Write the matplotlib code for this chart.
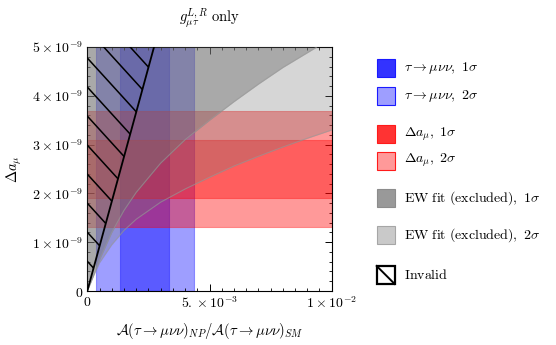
import numpy as np
import matplotlib
matplotlib.use("Agg")
import matplotlib.pyplot as plt
from matplotlib.patches import Rectangle, Polygon
from matplotlib.lines import Line2D

plt.rcParams['mathtext.fontset'] = 'cm'
plt.rcParams['font.family'] = ['DejaVu Serif']

# ---- data ----
tau_1s = [1.34e-3, 3.36e-3]
tau_2s = [0.36e-3, 4.37e-3]
amu_1s = [1.90e-9, 3.09e-9]
amu_2s = [1.31e-9, 3.69e-9]

ew1_x = [0, 0.25e-3, 0.5e-3, 1.0e-3, 1.5e-3, 2.0e-3, 3.0e-3, 4.0e-3, 5.0e-3, 6.0e-3, 7.0e-3, 8.0e-3, 9.39e-3]
ew1_y = [0, 0.32e-9, 0.64e-9, 1.20e-9, 1.65e-9, 2.02e-9, 2.62e-9, 3.10e-9, 3.50e-9, 3.88e-9, 4.24e-9, 4.58e-9, 5.0e-9]
ew2_x = [0, 0.25e-3, 0.5e-3, 1.0e-3, 1.5e-3, 2.0e-3, 3.0e-3, 4.0e-3, 5.0e-3, 6.0e-3, 7.0e-3, 8.0e-3, 9.0e-3, 10.0e-3]
ew2_y = [0, 0.30e-9, 0.58e-9, 0.95e-9, 1.24e-9, 1.47e-9, 1.82e-9, 2.09e-9, 2.33e-9, 2.56e-9, 2.76e-9, 2.95e-9, 3.13e-9, 3.30e-9]

invalid_x = [0, 2.73e-3]
invalid_y = [0, 5.0e-9]

xlim = (0, 1e-2)
ylim = (0, 5e-9)
xticks = [0, 5e-3, 1e-2]
xticklabels = [r'$0$', r'$5.\times10^{-3}$', r'$1\times10^{-2}$']
yticks = [0, 1e-9, 2e-9, 3e-9, 4e-9, 5e-9]
yticklabels = [r'$0$', r'$1\times10^{-9}$', r'$2\times10^{-9}$', r'$3\times10^{-9}$',
               r'$4\times10^{-9}$', r'$5\times10^{-9}$']

legend_labels = [r'$\tau\to\mu\nu\nu,\ 1\sigma$', r'$\tau\to\mu\nu\nu,\ 2\sigma$',
                 r'$\Delta a_\mu,\ 1\sigma$', r'$\Delta a_\mu,\ 2\sigma$',
                 r'$\mathrm{EW\ fit\ (excluded)},\ 1\sigma$', r'$\mathrm{EW\ fit\ (excluded)},\ 2\sigma$',
                 r'$\mathrm{Invalid}$']

# ---- figure ----
fig = plt.figure(figsize=(5.56, 3.45), dpi=100)
ax = fig.add_axes([0.157, 0.1565, 0.4396, 0.7072])
ax.set_xlim(*xlim)
ax.set_ylim(*ylim)

# tau -> mu nu nu bands
ax.axvspan(tau_2s[0], tau_2s[1], facecolor=(0, 0, 1, 0.38), edgecolor=(0, 0, 1, 0.35), lw=0.8, zorder=1)
ax.axvspan(tau_1s[0], tau_1s[1], facecolor=(0, 0, 1, 0.42), edgecolor=(0, 0, 1, 0.35), lw=0.8, zorder=1)

# Delta a_mu bands
ax.axhspan(amu_2s[0], amu_2s[1], facecolor=(1, 0, 0, 0.40), edgecolor=(1, 0, 0, 0.35), lw=0.8, zorder=2)
ax.axhspan(amu_1s[0], amu_1s[1], facecolor=(1, 0, 0, 0.38), edgecolor=(1, 0, 0, 0.35), lw=0.8, zorder=2)

# EW fit regions (above curves), drawn on top
gcol = (0.455, 0.455, 0.455)
ax.fill_between(ew2_x, ew2_y, ylim[1], color=gcol, alpha=0.29, lw=0, zorder=3)
ax.plot(ew2_x, ew2_y, color='0.6', lw=0.8, alpha=0.6, zorder=3)
ax.fill_between(ew1_x, ew1_y, ylim[1], color=gcol, alpha=0.455, lw=0, zorder=3)
ax.plot(ew1_x, ew1_y, color='0.6', lw=0.8, alpha=0.6, zorder=3)

# Invalid region: triangle left of line, hatched
tri = Polygon([(invalid_x[0], invalid_y[0]), (invalid_x[1], invalid_y[1]), (0, invalid_y[1])],
              closed=True, facecolor='none', edgecolor='none', zorder=4)
ax.add_patch(tri)
ax.plot(invalid_x, invalid_y, color='black', lw=1.3, zorder=5)
slope = -1.1
for y0 in np.arange(0.003, 1.6, 0.119):
    xs = np.array([0.0, 1.0])
    ys = y0 + slope * xs
    ln = Line2D(xs, ys, transform=ax.transAxes, color='black', lw=1.1, zorder=5)
    ax.add_line(ln)
    ln.set_clip_path(tri)

# ticks
ax.set_xticks(xticks)
ax.set_xticklabels(xticklabels)
ax.set_yticks(yticks)
ax.set_yticklabels(yticklabels)
ax.set_xticks(np.arange(0, 1.0001e-2, 0.5e-3), minor=True)
ax.set_yticks(np.arange(0, 5.0001e-9, 0.2e-9), minor=True)
ax.tick_params(which='both', direction='in', top=True, right=True, labelsize=10, pad=3)
ax.tick_params(which='major', length=5, width=0.7)
ax.tick_params(which='minor', length=2.5, width=0.6)
for s in ax.spines.values():
    s.set_linewidth(0.8)

ax.set_xlabel(r'$\mathcal{A}(\tau\to\mu\nu\nu)_{NP}/\mathcal{A}(\tau\to\mu\nu\nu)_{SM}$', fontsize=10.5, labelpad=7)
ax.set_ylabel(r'$\Delta a_\mu$', fontsize=10.5, labelpad=6)
ax.set_title(r'$g_{\mu\tau}^{L,R}\ \mathrm{only}$', fontsize=10.5, pad=18)

# ---- legend (manual) ----
W, H = 556, 345
sw = 18
swatches = [
    dict(fc=(0.2, 0.2, 1.0), ec=(0.1, 0.1, 1.0)),
    dict(fc=(0.62, 0.62, 1.0), ec=(0.1, 0.1, 1.0)),
    dict(fc=(1.0, 0.2, 0.2), ec=(1.0, 0.1, 0.1)),
    dict(fc=(1.0, 0.6, 0.6), ec=(1.0, 0.1, 0.1)),
    dict(fc=(0.6, 0.6, 0.6), ec=(0.55, 0.55, 0.55)),
    dict(fc=(0.79, 0.79, 0.79), ec=(0.65, 0.65, 0.65)),
    dict(fc='white', ec='black'),
]
yc = [68.3, 95.7, 134, 160.7, 198.3, 235, 275]
x0 = 376.7
for i, (lab, st, y) in enumerate(zip(legend_labels, swatches, yc)):
    lw = 1.6 if i == 6 else 0.8
    r = Rectangle((x0 / W, 1 - (y + sw / 2) / H), sw / W, sw / H, transform=fig.transFigure,
                  facecolor=st['fc'], edgecolor=st['ec'], lw=lw)
    fig.add_artist(r)
    if i == 6:
        fig.add_artist(Line2D([x0 / W, (x0 + sw) / W], [1 - (y - sw / 2) / H, 1 - (y + sw / 2) / H],
                              transform=fig.transFigure, color='black', lw=1.4))
    fig.text(404 / W, 1 - y / H, lab, fontsize=10, va='center', ha='left')

fig.savefig('out.png', dpi=100)
